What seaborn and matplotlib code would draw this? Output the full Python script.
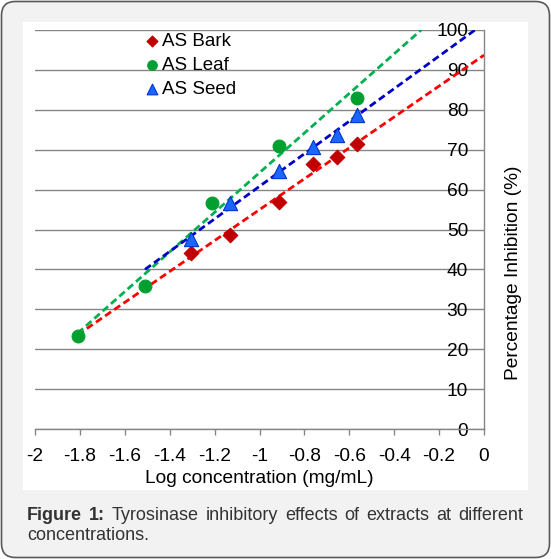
import numpy as np
import pandas as pd
import matplotlib
matplotlib.use("Agg")
import matplotlib.pyplot as plt
import seaborn as sns
from matplotlib.patches import FancyBboxPatch, Rectangle

# dane
bark_x = [-1.305, -1.131, -0.912, -0.763, -0.656, -0.567]
bark_y = [44.1, 48.6, 56.8, 66.3, 68.1, 71.4]
leaf_x = [-1.808, -1.510, -1.213, -0.912, -0.567]
leaf_y = [23.2, 35.8, 56.6, 71.0, 82.9]
seed_x = [-1.305, -1.131, -0.912, -0.763, -0.656, -0.567]
seed_y = [47.6, 56.6, 64.6, 70.6, 73.8, 78.8]

# linie trendu (końce)
bark_trend_x = [-1.81, 0.0]
bark_trend_y = [23.6, 93.7]
leaf_trend_x = [-1.81, -0.28]
leaf_trend_y = [24.0, 100.0]
seed_trend_x = [-1.51, -0.04]
seed_trend_y = [40.0, 100.0]

series = ["AS Bark", "AS Leaf", "AS Seed"]
x_ticks = [-2, -1.8, -1.6, -1.4, -1.2, -1, -0.8, -0.6, -0.4, -0.2, 0]
x_tick_labels = ["-2", "-1.8", "-1.6", "-1.4", "-1.2", "-1", "-0.8", "-0.6", "-0.4", "-0.2", "0"]
y_ticks = list(range(0, 101, 10))

points = pd.concat([
    pd.DataFrame({"x": bark_x, "y": bark_y, "s": series[0]}),
    pd.DataFrame({"x": leaf_x, "y": leaf_y, "s": series[1]}),
    pd.DataFrame({"x": seed_x, "y": seed_y, "s": series[2]}),
])
trends = pd.concat([
    pd.DataFrame({"x": bark_trend_x, "y": bark_trend_y, "s": series[0]}),
    pd.DataFrame({"x": leaf_trend_x, "y": leaf_trend_y, "s": series[1]}),
    pd.DataFrame({"x": seed_trend_x, "y": seed_trend_y, "s": series[2]}),
])

sns.set_theme(style="white", rc={"text.color": "black", "axes.labelcolor": "black",
                                 "xtick.color": "black", "ytick.color": "black"})
plt.rcParams["font.family"] = ["Liberation Sans", "DejaVu Sans"]

W, H = 551, 559
FS = 13.8
fig = plt.figure(figsize=(W / 100, H / 100), dpi=100)
fig.patch.set_facecolor("white")

# tło: szara ramka z zaokrąglonymi rogami + biały panel
fig.patches.append(FancyBboxPatch((1.5 / W, 1.5 / H), (W - 3) / W, (H - 3) / H,
                                  boxstyle="round,pad=0,rounding_size=0.025",
                                  transform=fig.transFigure, facecolor="#f2f2f2",
                                  edgecolor="#595959", linewidth=1.2, zorder=-10))
fig.patches.append(Rectangle((23 / W, (H - 490) / H), (528 - 23) / W, (490 - 22) / H,
                             transform=fig.transFigure, facecolor="white",
                             edgecolor="none", zorder=-9))

ax = fig.add_axes([35 / W, (H - 429) / H, 449 / W, 399 / H])
ax.set_facecolor("none")

line_colors = {"AS Bark": "#ff0000", "AS Leaf": "#00b050", "AS Seed": "#0000cc"}
sns.lineplot(data=trends, x="x", y="y", hue="s", palette=line_colors, ax=ax,
             legend=False, linewidth=2.0, dashes=False, zorder=3)
for ln in ax.get_lines():
    ln.set_linestyle((0, (2.6, 1.4)))

marker_colors = {"AS Bark": "#c00000", "AS Leaf": "#00a030", "AS Seed": "#1a66ff"}
edge_colors = {"AS Bark": "#c00000", "AS Leaf": "#00a030", "AS Seed": "#0033cc"}
markers = {"AS Bark": "D", "AS Leaf": "o", "AS Seed": "^"}
sizes = {"AS Bark": 55, "AS Leaf": 85, "AS Seed": 105}
for name in series:
    sub = points[points["s"] == name]
    sns.scatterplot(data=sub, x="x", y="y", ax=ax, marker=markers[name],
                    color=marker_colors[name], edgecolor=edge_colors[name],
                    linewidth=0.8, s=sizes[name], label=name, zorder=4)

ax.set_xlim(-2, 0)
ax.set_ylim(0, 100)
ax.set_xticks(x_ticks)
ax.set_xticklabels(x_tick_labels)
ax.set_yticks(y_ticks)

for sp in ["left", "top"]:
    ax.spines[sp].set_visible(False)
for sp in ["bottom", "right"]:
    ax.spines[sp].set_color("#868686")
    ax.spines[sp].set_linewidth(1.0)

ax.grid(axis="y", color="#868686", linewidth=1.0)
ax.set_axisbelow(True)

ax.tick_params(axis="x", direction="out", length=4, width=1.0, color="#868686",
               labelsize=FS, pad=9.5, bottom=True)
ax.yaxis.tick_right()
ax.tick_params(axis="y", length=0, labelsize=FS, pad=-11.5, labelright=True, labelleft=False)
for lab in ax.get_yticklabels():
    lab.set_horizontalalignment("right")

ax.set_xlabel("Log concentration (mg/mL)", fontsize=FS, labelpad=4)
ax.yaxis.set_label_position("right")
ax.set_ylabel("Percentage Inhibition (%)", fontsize=FS)
ax.yaxis.set_label_coords(1.046, 0.391)

leg = ax.legend(loc="upper left", bbox_to_anchor=(0.22, 1.012), frameon=False,
                fontsize=13.5, handletextpad=0.0, handlelength=1.1, markerscale=0.75,
                labelspacing=0.36, borderaxespad=0)

# podpis z justowaniem pierwszej linii
renderer = fig.canvas.get_renderer()
cap_color = "#333333"
cap_size = 13
left_px, right_px = 27, 523
line1 = [("Figure", "bold"), ("1:", "bold"), ("Tyrosinase", "normal"), ("inhibitory", "normal"),
         ("effects", "normal"), ("of", "normal"), ("extracts", "normal"), ("at", "normal"),
         ("different", "normal")]
texts, widths = [], []
for word, wt in line1:
    t = fig.text(0, 0, word, fontsize=cap_size, fontweight=wt, color=cap_color,
                 va="center", ha="left")
    widths.append(t.get_window_extent(renderer).width)
    texts.append(t)
gap = (right_px - left_px - sum(widths)) / (len(widths) - 1)
xpos = left_px
for t, w in zip(texts, widths):
    t.set_position((xpos / W, (H - 515) / H))
    xpos += w + gap
fig.text(left_px / W, (H - 536) / H, "concentrations.", fontsize=cap_size,
         color=cap_color, va="center", ha="left")

fig.savefig("out.png", dpi=100)
